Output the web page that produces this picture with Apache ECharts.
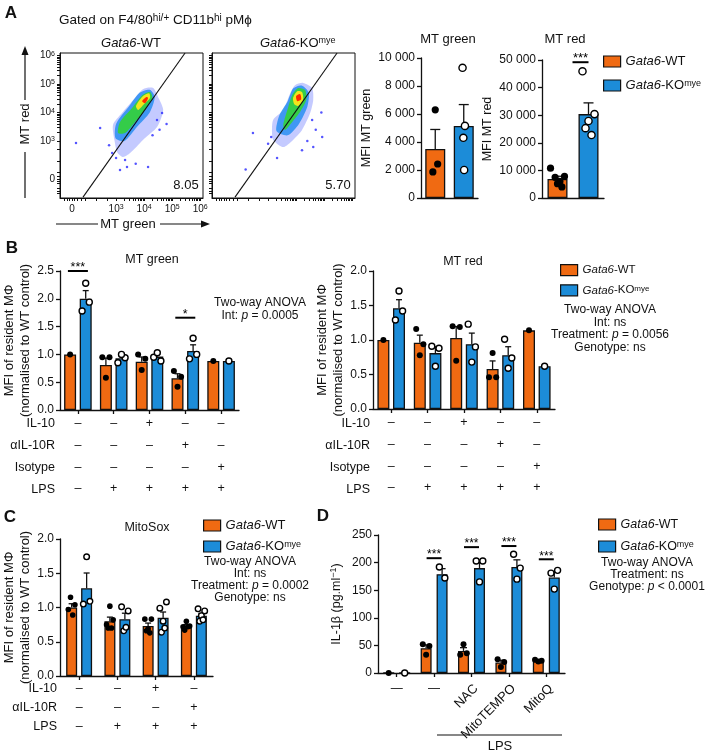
<!DOCTYPE html>
<html><head><meta charset="utf-8">
<script src="https://cdn.jsdelivr.net/npm/echarts@6/dist/echarts.min.js"></script>
<style>html,body{margin:0;padding:0;background:#fff}#c{width:709px;height:754px}</style>
</head><body><div id="c"></div>
<script>
// ================= DATA =================
// --- Panel A: flow plots (axis units = display decades) ---
const flowXTickPos = [0.43, 2, 3, 4, 5];
const flowYTickPos = [0.67, 2, 3, 4, 5];
const flowTickLabels = ['0', '10{s|3}', '10{s|4}', '10{s|5}', '10{s|6}'];
const gateLine = [[0.82, 0.03], [4.46, 5.09]];
const gateValues = ['8.05', '5.70'];
// density contours (outer -> core)
const wtOuter = [[1.96,1.93],[1.89,2.56],[2.21,2.98],[2.61,3.44],[2.96,3.82],[3.32,3.86],[3.5,3.54],[3.68,3.09],[3.46,2.49],[2.96,2.04],[2.5,1.58],[2.25,1.44],[2.04,1.61]];
const wtMid   = [[1.98,2.1],[2.0,2.6],[2.45,3.2],[2.85,3.7],[3.2,3.8],[3.38,3.55],[3.2,3.0],[2.75,2.5],[2.3,2.0]];
const wtGreen = [[2.07,2.28],[2.14,2.67],[2.57,3.16],[2.93,3.61],[3.21,3.72],[3.29,3.51],[3.04,3.09],[2.68,2.67],[2.32,2.28]];
const wtYellow= [[2.71,3.23],[2.96,3.58],[3.18,3.68],[3.21,3.51],[3.0,3.3],[2.79,3.09]];
const wtRed   = [[2.93,3.4],[3.07,3.54],[3.14,3.51],[3.04,3.33]];
const wtSparse= [[1.43,2.46],[1.86,1.58],[2.32,1.33],[2.39,1.09],[3.46,2.74],[3.64,2.98],[0.57,1.93],[3.14,1.09],[2.14,0.98],[3.8,2.6],[2.7,1.2],[3.3,2.2],[3.55,2.4],[2.0,1.4],[1.75,1.85]];
const koOuter = [[2.14,2.28],[2.18,2.74],[2.54,3.09],[2.79,3.68],[2.96,3.96],[3.25,4.04],[3.57,3.86],[3.61,3.44],[3.5,2.98],[3.21,2.39],[2.89,2.04],[2.54,1.79],[2.18,2.04]];
const koMid   = [[2.3,2.35],[2.4,2.9],[2.7,3.4],[2.9,3.85],[3.2,3.95],[3.45,3.7],[3.4,3.2],[3.1,2.6],[2.7,2.2]];
const koGreen = [[2.54,2.56],[2.71,3.16],[2.86,3.61],[3.07,3.86],[3.32,3.79],[3.36,3.44],[3.14,3.02],[2.86,2.67],[2.61,2.39]];
const koYellow= [[2.89,3.51],[3.04,3.75],[3.21,3.72],[3.25,3.44],[3.07,3.23],[2.93,3.3]];
const koRed   = [[3.0,3.58],[3.14,3.65],[3.18,3.47],[3.04,3.40]];
const koSparse= [[1.46,2.28],[2.11,2.14],[3.93,2.14],[3.61,1.79],[3.57,2.74],[3.21,1.68],[2.32,1.4],[1.2,1.0],[3.9,3.0],[3.7,2.4],[2.0,1.9],[3.4,2.0]];

// --- Panel A: bar charts ---
const aCats = ['Gata6-WT', 'Gata6-KO'];
const aGreenMean = [3500, 5150];
const aGreenWTpts = [1860, 2430, 6300];
const aGreenKOpts = [9300, 5150, 4300, 2000];
const aRedMean = [6900, 30400];
const aRedWTpts = [10800, 7800, 7500, 6000, 5200, 4000];
const aRedKOpts = [45900, 30400, 27900, 25300, 22800];
const aRedSig = [[1, 49200, '***']];

// --- Panel B ---
const bCats = ['ctrl', 'LPS', 'LPS+IL-10', 'LPS+aIL-10R', 'LPS+Isotype'];
const bRowNames = ['IL-10', 'αIL-10R', 'Isotype', 'LPS'];
const bRowIL10   = ['–', '–', '+', '–', '–'];
const bRowAIL10R = ['–', '–', '–', '+', '–'];
const bRowIso    = ['–', '–', '–', '–', '+'];
const bRowLPS    = ['–', '+', '+', '+', '+'];
const bGreenWT = [1.0, 0.81, 0.87, 0.57, 0.88];
const bGreenKO = [2.0, 0.93, 0.96, 1.06, 0.88];
const bGreenWTpts = [[1.0], [0.95, 0.95, 0.58], [1.0, 0.92, 0.72], [0.70, 0.60, 0.42], [0.88]];
const bGreenKOpts = [[1.78, 1.94, 2.28], [0.85, 0.94, 1.0], [0.95, 0.88, 1.03], [0.92, 1.0, 1.29], [0.88]];
const bGreenSig = [[0, 2.5, '***'], [3, 1.66, '*']];
const bRedWT = [1.0, 0.96, 1.03, 0.58, 1.14];
const bRedKO = [1.46, 0.81, 0.94, 0.78, 0.62];
const bRedWTpts = [[1.0], [1.16, 0.94, 0.78], [1.2, 1.19, 0.70], [0.46, 0.46, 0.81], [1.14]];
const bRedKOpts = [[1.29, 1.42, 1.71], [0.91, 0.88, 0.62], [1.23, 0.9, 0.68], [1.01, 0.74, 0.59], [0.62]];

// --- Panel C ---
const cCats = ['ctrl', 'LPS', 'LPS+IL-10', 'LPS+aIL-10R'];
const cRowNames = ['IL-10', 'αIL-10R', 'LPS'];
const cRowIL10   = ['–', '–', '+', '–'];
const cRowAIL10R = ['–', '–', '–', '+'];
const cRowLPS    = ['–', '+', '+', '+'];
const cWT = [1.0, 0.80, 0.73, 0.73];
const cKO = [1.28, 0.83, 0.85, 0.88];
const cWTpts = [[0.97, 1.04, 1.15, 0.89], [0.75, 0.82, 1.02, 0.7, 0.7], [0.83, 0.83, 0.69, 0.66, 0.63], [0.72, 0.73, 0.8, 0.67, 0.72]];
const cKOpts = [[1.05, 1.09, 1.74], [1.01, 0.95, 0.66, 0.71], [0.99, 1.08, 0.8, 0.64, 0.7], [0.98, 0.95, 0.88, 0.8, 0.82]];

// --- Panel D ---
const dCats = ['—', '—', 'NAC', 'MitoTEMPO', 'MitoQ'];
const dWT = [0, 45, 40, 19, 22];
const dKO = [0, 179, 190, 192, 173];
const dWTpts = [[0], [52, 49, 33], [33, 36, 52], [25, 20, 11], [24, 22, 21]];
const dKOpts = [[0], [192, 172], [203, 203, 165], [215, 190, 170], [181, 186, 152]];
const dSig = [[1, 208, '***'], [2, 228, '***'], [3, 230, '***'], [4, 206, '***']];

// ================= STYLE =================
const FONT = '"Liberation Sans", Arial, Helvetica, sans-serif';
const ORANGE = '#F06A12', BLUE = '#1C8CD8', INK = '#111';
const JIT = {1:[0], 2:[-0.25,0.25], 3:[-0.3,0.3,0], 4:[-0.3,0.3,-0.1,0.1], 5:[-0.3,0.3,0,-0.15,0.15], 6:[-0.35,0.35,-0.12,0.12,0,0.22]};
const richFor = fs => ({
  i: {fontStyle:'italic', fontSize:fs, fontFamily:FONT, color:INK, fill:INK},
  s: {fontSize:Math.round(fs*0.72), fontFamily:FONT, verticalAlign:'top', color:INK, fill:INK}
});

// ================= HELPERS =================
function sem(a) {
  if (a.length < 2) return 0;
  const m = a.reduce((s, v) => s + v, 0) / a.length;
  const sd = Math.sqrt(a.reduce((s, v) => s + (v - m) * (v - m), 0) / (a.length - 1));
  return sd / Math.sqrt(a.length);
}
function barSeries(name, xi, yi, data, color, bw, gap) {
  return {type:'bar', name, xAxisIndex:xi, yAxisIndex:yi, data, barWidth:bw, barGap:gap, silent:true, z:2,
    itemStyle:{color, borderColor:INK, borderWidth:1.3}};
}
function errSeries(xi, yi, means, pts, off, cap) {
  return {type:'custom', xAxisIndex:xi, yAxisIndex:yi, z:5, silent:true,
    data: means.map((m, i) => [i, m, m + sem(pts[i] || [])]),
    renderItem(params, api) {
      const a = api.coord([api.value(0), api.value(1)]);
      const b = api.coord([api.value(0), api.value(2)]);
      if (a[1] - b[1] < 0.5) return {type:'group', children:[]};
      const x = a[0] + off;
      return {type:'group', children:[
        {type:'line', shape:{x1:x, y1:a[1], x2:x, y2:b[1]}, style:{stroke:INK, lineWidth:1.3}},
        {type:'line', shape:{x1:x - cap, y1:b[1], x2:x + cap, y2:b[1]}, style:{stroke:INK, lineWidth:1.3}}
      ]};
    }};
}
function dotSeries(xi, yi, pts, off, bw, filled, r) {
  const data = [];
  pts.forEach((arr, i) => arr.forEach((v, k) => data.push([i, v, JIT[arr.length][k]])));
  return {type:'custom', xAxisIndex:xi, yAxisIndex:yi, z:6, silent:true, data,
    renderItem(params, api) {
      const p = api.coord([api.value(0), api.value(1)]);
      return {type:'circle', shape:{cx:p[0] + off + api.value(2) * bw, cy:p[1], r},
        style: filled ? {fill:'#000'} : {fill:'#fff', stroke:'#000', lineWidth:1.4}};
    }};
}
function sigSeries(xi, yi, sigs, half, off, fs) {
  return {type:'custom', xAxisIndex:xi, yAxisIndex:yi, z:6, silent:true,
    data: sigs.map(s => [s[0], s[1]]),
    renderItem(params, api) {
      const p = api.coord([api.value(0), api.value(1)]);
      const x = p[0] + off;
      return {type:'group', children:[
        {type:'line', shape:{x1:x - half, y1:p[1], x2:x + half, y2:p[1]}, style:{stroke:'#000', lineWidth:2}},
        {type:'text', style:{text:sigs[params.dataIndex][2], x:x, y:p[1] + 3, align:'center', verticalAlign:'bottom',
          fontSize:fs, fontFamily:FONT, fill:'#000'}}
      ]};
    }};
}
function polySeries(xi, yi, contours, colors, opac) {
  return {type:'custom', xAxisIndex:xi, yAxisIndex:yi, silent:true, z:2,
    data: contours.map(c => c[0]),
    renderItem(params, api) {
      const c = contours[params.dataIndex];
      return {type:'polygon', shape:{points:c.map(p => api.coord(p)), smooth:0.25},
        style:{fill:colors[params.dataIndex], opacity:opac[params.dataIndex]}};
    }};
}
const flowColors = ['#3a50ff', '#1486f0', '#34d040', '#f2e51c', '#ff2a00'];
const flowOpac = [0.3, 0.75, 0.95, 1, 1];

// flow ticks: majors plus log minors
const flowMinor = [0.15, 0.25, 0.33, 0.52, 0.6, 0.75, 0.9, 1.3, 1.7];
for (let d = 2; d < 5; d++) for (let k = 2; k <= 9; k++) flowMinor.push(d + Math.log10(k));
const nearestIdx = (arr, v) => arr.reduce((bi, a, i) => Math.abs(a - v) < Math.abs(arr[bi] - v) ? i : bi, 0);

const axLine = {show:true, lineStyle:{color:INK, width:1.3}};
const axTick = {show:true, length:4, lineStyle:{color:INK, width:1.3}};
function flowX(gi, showLabels) {
  return {gridIndex:gi, type:'value', min:0, max:5.1, splitLine:{show:false},
    axisLine:{show:true, lineStyle:{color:INK, width:1}},
    axisTick:{show:true, length:3, customValues:flowXTickPos.concat(flowMinor), lineStyle:{color:INK, width:1}},
    axisLabel:{show:showLabels, customValues:flowXTickPos, margin:6, fontSize:10, color:INK, fontFamily:FONT,
      formatter: v => flowTickLabels[nearestIdx(flowXTickPos, v)], rich:richFor(10)}};
}
function flowY(gi, showLabels) {
  return {gridIndex:gi, type:'value', min:0, max:5.09, splitLine:{show:false},
    axisLine:{show:true, lineStyle:{color:INK, width:1}},
    axisTick:{show:true, length:3, customValues:flowYTickPos.concat(flowMinor), lineStyle:{color:INK, width:1}},
    axisLabel:{show:showLabels, customValues:flowYTickPos, margin:5, fontSize:10, color:INK, fontFamily:FONT,
      formatter: v => flowTickLabels[nearestIdx(flowYTickPos, v)], rich:richFor(10)}};
}
const thou = v => String(v).replace(/\B(?=(\d{3})+(?!\d))/g, ' ');
function valY(gi, max, interval, fmt, name, nameGap, nfs) {
  return {gridIndex:gi, type:'value', min:0, max, interval, splitLine:{show:false},
    axisLine:axLine, axisTick:axTick,
    axisLabel:{fontSize:12, color:INK, fontFamily:FONT, margin:6, formatter:fmt},
    name, nameLocation:'middle', nameRotate:90, nameGap,
    nameTextStyle:{fontSize:nfs || 12, color:INK, fontFamily:FONT, lineHeight:16, rich:richFor(nfs || 12)}};
}
function catX(gi, cats, opts) {
  return Object.assign({gridIndex:gi, type:'category', data:cats, axisLine:axLine, position:'bottom',
    axisTick:{show:true, length:4, alignWithLabel:true, lineStyle:{color:INK, width:1.3}},
    axisLabel:{show:false}}, opts || {});
}
function condLabels(rows, lh, margin) {
  return {show:true, interval:0, fontSize:12.5, color:INK, fontFamily:FONT, lineHeight:lh, margin,
    formatter:(v, i) => rows.map(r => r[i]).join('\n')};
}

// ================= GRAPHIC TEXT =================
function T(x, y, text, o) {
  o = o || {};
  const fs = o.fs || 12;
  return {type:'text', x, y, rotation:o.rot || 0, silent:true, z:10,
    style:{text, fill:INK, fontFamily:FONT, fontSize:fs, fontWeight:o.fw || 'normal',
      align:o.align || 'center', verticalAlign:'middle', rich:richFor(fs)}};
}
function L(x1, y1, x2, y2, w) {
  return {type:'line', silent:true, shape:{x1, y1, x2, y2}, style:{stroke:INK, lineWidth:w || 1.2}};
}
function P(points) { return {type:'polygon', silent:true, shape:{points}, style:{fill:INK}}; }

const graphics = [
  T(11, 13, 'A', {fs:17, fw:'bold'}),
  T(59, 20, 'Gated on F4/80{s|hi/+} CD11b{s|hi} pMϕ', {fs:13.5, align:'left'}),
  T(131, 43, '{i|Gata6}-WT', {fs:13}),
  T(260, 43, '{i|Gata6}-KO{s|mye}', {fs:13, align:'left'}),
  T(128, 224, 'MT green', {fs:13}),
  L(56, 224, 98, 224), L(160, 224, 203, 224), P([[210, 224], [201, 220.5], [201, 227.5]]),
  T(25, 124, 'MT red', {fs:13, rot:Math.PI / 2}),
  L(25, 152, 25, 198), L(25, 100, 25, 54), P([[25, 46], [21.5, 55], [28.5, 55]]),
  T(186, 185, gateValues[0], {fs:13}),
  T(338, 185, gateValues[1], {fs:13}),
  T(448, 39, 'MT green', {fs:13}),
  T(565, 39, 'MT red', {fs:13}),
  // B
  T(12, 248, 'B', {fs:17, fw:'bold'}),
  T(152, 260, 'MT green', {fs:12.5}),
  T(260, 303, 'Two-way ANOVA', {fs:12}),
  T(260, 316, 'Int: {i|p} = 0.0005', {fs:12}),
  T(463, 262, 'MT red', {fs:12.5}),
  T(610, 310, 'Two-way ANOVA', {fs:12}),
  T(610, 322.5, 'Int: ns', {fs:12}),
  T(610, 335, 'Treatment: {i|p} = 0.0056', {fs:12}),
  T(610, 347.5, 'Genotype: ns', {fs:12}),
  // C
  T(10, 517, 'C', {fs:17, fw:'bold'}),
  T(147, 528, 'MitoSox', {fs:12.5}),
  T(250, 562, 'Two-way ANOVA', {fs:12}),
  T(250, 573.5, 'Int: ns', {fs:12}),
  T(250, 585.5, 'Treatment: {i|p} = 0.0002', {fs:12}),
  T(250, 598, 'Genotype: ns', {fs:12}),
  // D
  T(323, 516, 'D', {fs:17, fw:'bold'}),
  T(647, 563, 'Two-way ANOVA', {fs:12}),
  T(647, 575, 'Treatment: ns', {fs:12}),
  T(647, 587, 'Genotype: {i|p} < 0.0001', {fs:12}),
  L(437, 735, 562, 735, 1.2),
  T(500, 746, 'LPS', {fs:13})
];
bRowNames.forEach((n, k) => {
  graphics.push(T(55, 424 + k * 21.7, n, {fs:12.5, align:'right'}));
  graphics.push(T(370, 424 + k * 21.7, n, {fs:12.5, align:'right'}));
});
cRowNames.forEach((n, k) => graphics.push(T(57, 689 + k * 19, n, {fs:12.5, align:'right'})));

// ================= LEGENDS =================
const legFmt = n => n === 'Gata6-WT' ? '{i|Gata6}-WT' : '{i|Gata6}-KO{s|mye}';
function legend(left, top, gap, fs) {
  return {left, top, orient:'vertical', icon:'rect', itemWidth:17, itemHeight:11, itemGap:gap, padding:0,
    selectedMode:false, data:['Gata6-WT', 'Gata6-KO'], formatter:legFmt,
    itemStyle:{borderColor:INK, borderWidth:1.2},
    textStyle:{fontSize:fs, color:INK, fontFamily:FONT, rich:richFor(fs)}};
}

// ================= OPTION =================
const bRows = [bRowIL10, bRowAIL10R, bRowIso, bRowLPS];
const cRows = [cRowIL10, cRowAIL10R, cRowLPS];
const fix1 = v => v.toFixed(1);
const bNames = 'MFI of resident MΦ\n(normalised to WT control)';

const option = {
  animation:false,
  textStyle:{fontFamily:FONT},
  grid:[
    {left:60, top:53, width:143, height:145, show:true, borderColor:INK, borderWidth:1},
    {left:212, top:53, width:143, height:145, show:true, borderColor:INK, borderWidth:1},
    {left:421, top:58, width:57, height:140},
    {left:542, top:60, width:62, height:138},
    {left:59, top:271, width:180, height:139},
    {left:373, top:271, width:182, height:138},
    {left:59, top:539, width:154, height:137},
    {left:378, top:535, width:187, height:138}
  ],
  xAxis:[
    flowX(0, true), flowX(1, false),
    catX(2, aCats, {axisTick:{show:false}}), catX(3, aCats, {axisTick:{show:false}}),
    catX(4, bCats, {axisLabel:condLabels(bRows, 21.7, 3)}),
    catX(5, bCats, {axisLabel:condLabels(bRows, 21.7, 3)}),
    catX(6, cCats, {axisLabel:condLabels(cRows, 19, 3.5)}),
    catX(7, dCats, {axisLabel:{show:true, interval:0, fontSize:12, color:INK, fontFamily:FONT, margin:10,
      formatter:(v, i) => i < 2 ? v : ''}}),
    catX(7, dCats, {axisLine:{show:false}, axisTick:{show:false},
      axisLabel:{show:true, interval:0, rotate:45, fontSize:13, color:INK, fontFamily:FONT, margin:9,
      verticalAlign:'top', formatter:(v, i) => i >= 2 ? v : ''}})
  ],
  yAxis:[
    flowY(0, true), flowY(1, false),
    valY(2, 10000, 2000, thou, 'MFI MT green', 41, 12.5),
    valY(3, 50000, 10000, thou, 'MFI MT red', 39, 12.5),
    valY(4, 2.5, 0.5, fix1, bNames, 27, 13),
    valY(5, 2.0, 0.5, fix1, bNames, 27, 13),
    valY(6, 2.0, 0.5, fix1, bNames, 27, 13),
    valY(7, 250, 50, v => String(v), 'IL-1β (pg.ml{s|−1})', 33, 12.5)
  ],
  legend:[
    legend(603, 55, 11, 13),
    legend(560, 264, 8, 11.5),
    legend(203, 519, 8, 13),
    legend(598, 518, 9, 12.5)
  ],
  graphic:graphics,
  series:[
    // flow plots
    polySeries(0, 0, [wtOuter, wtMid, wtGreen, wtYellow, wtRed], flowColors, flowOpac),
    polySeries(1, 1, [koOuter, koMid, koGreen, koYellow, koRed], flowColors, flowOpac),
    {type:'scatter', xAxisIndex:0, yAxisIndex:0, data:wtSparse, symbolSize:2.5, itemStyle:{color:'#2a2aff'}, silent:true},
    {type:'scatter', xAxisIndex:1, yAxisIndex:1, data:koSparse, symbolSize:2.5, itemStyle:{color:'#2a2aff'}, silent:true},
    {type:'line', xAxisIndex:0, yAxisIndex:0, data:gateLine, symbol:'none', lineStyle:{color:INK, width:1.1}, silent:true, z:4},
    {type:'line', xAxisIndex:1, yAxisIndex:1, data:gateLine, symbol:'none', lineStyle:{color:INK, width:1.1}, silent:true, z:4},
    // A bars
    {type:'bar', name:'A green', xAxisIndex:2, yAxisIndex:2, barWidth:20, silent:true,
      data:[{value:aGreenMean[0], itemStyle:{color:ORANGE}}, {value:aGreenMean[1], itemStyle:{color:BLUE}}],
      itemStyle:{borderColor:INK, borderWidth:1.3}},
    errSeries(2, 2, aGreenMean, [aGreenWTpts, aGreenKOpts], 0, 5),
    dotSeries(2, 2, [aGreenWTpts, []], 0, 8, true, 3.6),
    dotSeries(2, 2, [[], aGreenKOpts], 0, 4, false, 3.6),
    {type:'bar', name:'A red', xAxisIndex:3, yAxisIndex:3, barWidth:20, silent:true,
      data:[{value:aRedMean[0], itemStyle:{color:ORANGE}}, {value:aRedMean[1], itemStyle:{color:BLUE}}],
      itemStyle:{borderColor:INK, borderWidth:1.3}},
    errSeries(3, 3, aRedMean, [aRedWTpts, aRedKOpts], 0, 5),
    dotSeries(3, 3, [aRedWTpts, []], 0, 20, true, 3.6),
    dotSeries(3, 3, [[], aRedKOpts], 0, 20, false, 3.6),
    sigSeries(3, 3, aRedSig, 8, -8, 13),
    // B green
    barSeries('Gata6-WT', 4, 4, bGreenWT, ORANGE, 12, '30%'),
    barSeries('Gata6-KO', 4, 4, bGreenKO, BLUE, 12, '30%'),
    errSeries(4, 4, bGreenWT, bGreenWTpts, -7.8, 3), errSeries(4, 4, bGreenKO, bGreenKOpts, 7.8, 3),
    dotSeries(4, 4, bGreenWTpts, -7.8, 12, true, 3), dotSeries(4, 4, bGreenKOpts, 7.8, 12, false, 3),
    sigSeries(4, 4, bGreenSig, 10, 0, 12.5),
    // B red
    barSeries('Gata6-WT', 5, 5, bRedWT, ORANGE, 12, '30%'),
    barSeries('Gata6-KO', 5, 5, bRedKO, BLUE, 12, '30%'),
    errSeries(5, 5, bRedWT, bRedWTpts, -7.8, 3), errSeries(5, 5, bRedKO, bRedKOpts, 7.8, 3),
    dotSeries(5, 5, bRedWTpts, -7.8, 12, true, 3), dotSeries(5, 5, bRedKOpts, 7.8, 12, false, 3),
    // C
    barSeries('Gata6-WT', 6, 6, cWT, ORANGE, 11, '36%'),
    barSeries('Gata6-KO', 6, 6, cKO, BLUE, 11, '36%'),
    errSeries(6, 6, cWT, cWTpts, -7.5, 3), errSeries(6, 6, cKO, cKOpts, 7.5, 3),
    dotSeries(6, 6, cWTpts, -7.5, 11, true, 2.8), dotSeries(6, 6, cKOpts, 7.5, 11, false, 2.8),
    // D
    barSeries('Gata6-WT', 7, 7, dWT, ORANGE, 11, '45%'),
    barSeries('Gata6-KO', 7, 7, dKO, BLUE, 11, '45%'),
    errSeries(7, 7, dWT, dWTpts, -8, 3.5), errSeries(7, 7, dKO, dKOpts, 8, 3.5),
    dotSeries(7, 7, dWTpts, -8, 11, true, 3), dotSeries(7, 7, dKOpts, 8, 11, false, 3),
    sigSeries(7, 7, dSig, 7.5, 0, 12)
  ]
};
const chart = echarts.init(document.getElementById('c'), null, {renderer:'canvas'});
chart.setOption(option);
</script>
</body></html>
